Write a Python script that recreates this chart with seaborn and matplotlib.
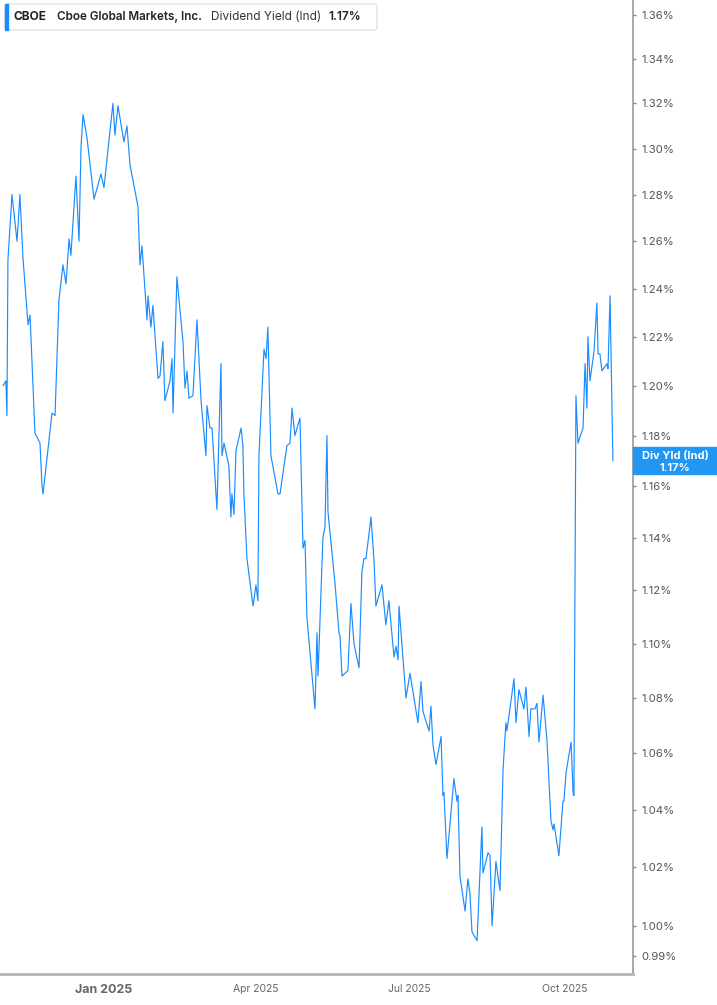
import matplotlib
matplotlib.use("Agg")
import matplotlib.pyplot as plt
import matplotlib.ticker as mticker
from matplotlib.patches import FancyBboxPatch, Rectangle
from matplotlib.transforms import IdentityTransform
import pandas as pd
import seaborn as sns

# CBOE indicated dividend yield
BASE_DATE = pd.Timestamp("2025-01-01")

DAYS = [
    -59.5, -57.8, -57.2, -56.6, -54.2, -51.2, -49.5, -47.7, -44.7, -43.5,
    -40.6, -37.6, -36.4, -35.8, -30.5, -28.7, -26.4, -24.0, -22.2, -20.4,
    -19.3, -16.3, -14.5, -13.3, -12.1, -9.8, -5.6, -1.5, 0.3, 5.6,
    6.8, 8.6, 12.1, 13.9, 15.7, 20.4, 21.6, 22.8, 25.8, 26.4,
    28.1, 29.3, 32.3, 33.5, 35.2, 36.4, 39.4, 40.6, 41.2, 43.5,
    47.1, 48.3, 49.5, 50.6, 53.0, 55.4, 57.8, 60.7, 61.3, 63.1,
    64.3, 67.2, 69.6, 70.2, 71.4, 74.3, 75.5, 76.1, 77.3, 78.5,
    81.5, 82.6, 83.2, 85.0, 88.6, 90.3, 91.5, 92.1, 95.1, 96.3,
    97.4, 99.2, 103.4, 104.6, 106.3, 108.7, 110.5, 111.7, 113.4, 116.4,
    118.2, 119.4, 120.5, 125.3, 126.5, 127.1, 130.0, 131.2, 132.4, 133.0,
    135.4, 137.1, 139.5, 140.1, 141.3, 144.8, 146.6, 148.4, 151.4, 153.1,
    154.3, 155.5, 158.5, 160.2, 161.4, 165.0, 167.3, 169.1, 172.1, 173.3,
    174.5, 175.1, 179.2, 181.6, 186.3, 188.1, 189.3, 192.9, 194.0, 195.2,
    197.0, 200.0, 201.1, 201.7, 203.5, 207.6, 209.4, 210.0, 211.2, 214.2,
    215.9, 217.1, 218.3, 221.3, 224.2, 224.8, 227.8, 229.0, 230.2, 232.5,
    234.9, 236.7, 238.4, 239.0, 243.2, 244.4, 246.1, 249.1, 250.3, 252.1,
    253.2, 255.6, 256.8, 258.0, 260.4, 262.7, 265.1, 266.3, 266.9, 269.8,
    272.2, 272.8, 274.0, 277.0, 278.2, 278.7, 279.9, 281.1, 284.1, 285.3,
    286.4, 287.0, 288.2, 290.6, 292.3, 293.0, 294.1, 295.3, 298.3, 298.9,
    300.1, 301.8,
]

YIELD_PCT = [
    1.200, 1.202, 1.188, 1.252, 1.280, 1.260, 1.280, 1.253, 1.225, 1.229,
    1.181, 1.177, 1.160, 1.157, 1.189, 1.188, 1.235, 1.250, 1.242, 1.261,
    1.254, 1.288, 1.260, 1.301, 1.315, 1.305, 1.278, 1.289, 1.283, 1.320,
    1.306, 1.319, 1.303, 1.310, 1.293, 1.275, 1.250, 1.258, 1.227, 1.237,
    1.224, 1.233, 1.203, 1.204, 1.218, 1.194, 1.202, 1.211, 1.189, 1.245,
    1.218, 1.199, 1.206, 1.195, 1.196, 1.227, 1.194, 1.172, 1.192, 1.183,
    1.183, 1.151, 1.209, 1.172, 1.177, 1.168, 1.148, 1.157, 1.149, 1.174,
    1.183, 1.176, 1.157, 1.132, 1.114, 1.122, 1.116, 1.172, 1.215, 1.211,
    1.224, 1.172, 1.157, 1.157, 1.165, 1.176, 1.177, 1.191, 1.180, 1.187,
    1.136, 1.139, 1.110, 1.076, 1.104, 1.088, 1.140, 1.144, 1.180, 1.150,
    1.134, 1.123, 1.104, 1.103, 1.088, 1.090, 1.115, 1.100, 1.091, 1.127,
    1.132, 1.132, 1.148, 1.132, 1.114, 1.122, 1.107, 1.116, 1.095, 1.099,
    1.094, 1.114, 1.080, 1.089, 1.071, 1.086, 1.075, 1.068, 1.077, 1.063,
    1.056, 1.066, 1.045, 1.046, 1.023, 1.051, 1.043, 1.045, 1.017, 1.005,
    1.016, 1.011, 0.998, 0.995, 1.034, 1.018, 1.025, 1.024, 1.000, 1.022,
    1.012, 1.054, 1.071, 1.068, 1.087, 1.071, 1.083, 1.076, 1.084, 1.066,
    1.076, 1.076, 1.078, 1.064, 1.081, 1.065, 1.036, 1.033, 1.035, 1.024,
    1.043, 1.043, 1.053, 1.064, 1.046, 1.045, 1.196, 1.177, 1.183, 1.209,
    1.191, 1.220, 1.202, 1.214, 1.234, 1.213, 1.213, 1.206, 1.209, 1.207,
    1.237, 1.170,
]

Y_TICKS = [0.99, 1.00, 1.02, 1.04, 1.06, 1.08, 1.10, 1.12, 1.14, 1.16,
           1.18, 1.20, 1.22, 1.24, 1.26, 1.28, 1.30, 1.32, 1.34, 1.36]
X_TICKS = ["2025-01-01", "2025-04-01", "2025-07-01", "2025-10-01"]
X_TICK_LABELS = ["Jan 2025", "Apr 2025", "Jul 2025", "Oct 2025"]

TICKER = "CBOE"
COMPANY = "Cboe Global Markets, Inc."
METRIC = "Dividend Yield (Ind)"
LAST_VALUE = 1.17

LINE_BLUE = "#1a8cff"
TAG_BLUE = "#2196f3"
W, H = 717, 1005


def main() -> None:
    df = pd.DataFrame({
        "date": BASE_DATE + pd.to_timedelta(DAYS, unit="D"),
        "yield": YIELD_PCT,
    })

    sns.set_style("white")
    plt.rcParams["font.family"] = ["Inter", "DejaVu Sans"]

    fig = plt.figure(figsize=(W / 100, H / 100), dpi=100)
    ax = fig.add_axes([0, 31 / H, 633 / W, 1 - 31 / H])

    sns.lineplot(data=df, x="date", y="yield", ax=ax, color=LINE_BLUE,
                 linewidth=0.85, estimator=None)

    ax.set_yscale("log")
    ax.set_ylim(0.9839, 1.3669)
    ax.set_xlim(BASE_DATE - pd.Timedelta(days=61.3),
                BASE_DATE + pd.Timedelta(days=313.7))

    ax.yaxis.set_major_locator(mticker.FixedLocator(Y_TICKS))
    ax.yaxis.set_minor_locator(mticker.NullLocator())
    ax.yaxis.set_major_formatter(
        mticker.FuncFormatter(lambda v, _: f"{v:.2f}%"))
    ax.yaxis.tick_right()
    ax.tick_params(axis="y", length=2, width=1, color="#888888",
                   labelsize=8.2, labelcolor="#555555", pad=4)

    ax.set_xticks(pd.to_datetime(X_TICKS))
    ax.set_xticklabels(X_TICK_LABELS)
    ax.tick_params(axis="x", length=3, width=1, color="#999999",
                   labelsize=7.5, labelcolor="#666666", pad=4)
    first = ax.get_xticklabels()[0]
    first.set_fontweight("bold")
    first.set_fontsize(9)

    ax.set_xlabel("")
    ax.set_ylabel("")
    ax.grid(False)
    for side in ("left", "top"):
        ax.spines[side].set_visible(False)
    ax.spines["right"].set_color("#9a9a9a")
    ax.spines["right"].set_linewidth(1.2)
    ax.spines["bottom"].set_color("#b5b5b5")
    ax.spines["bottom"].set_linewidth(2)

    # legend box in the upper left (pixel coordinates)
    px = IdentityTransform()
    fig.add_artist(FancyBboxPatch((5, H - 30), 372, 26,
                                  boxstyle="round,pad=0,rounding_size=3",
                                  facecolor="white", edgecolor="#e2e2e2",
                                  linewidth=1, transform=px))
    fig.add_artist(Rectangle((5, H - 30), 3, 26, color=LINE_BLUE,
                             transform=px))
    yc = H - 17
    fig.text(13, yc, TICKER, transform=px, va="center", fontsize=8.6,
             fontweight="bold", color="#222222")
    fig.text(57, yc, COMPANY, transform=px, va="center", fontsize=8.4,
             fontweight="semibold", color="#222222")
    fig.text(211, yc, METRIC, transform=px, va="center", fontsize=8.5,
             color="#333333")
    fig.text(328, yc, f"{LAST_VALUE:.2f}%", transform=px, va="center",
             fontsize=8.6, fontweight="semibold", color="#222222")

    # last-value tag on the right axis
    fig.canvas.draw()
    _, ty = ax.transData.transform((ax.get_xlim()[1], LAST_VALUE))
    fig.add_artist(Rectangle((633, ty - 13.5), 84, 27, color=TAG_BLUE,
                             transform=px))
    fig.text(675, ty + 5, "Div Yld (Ind)", transform=px, ha="center",
             va="center", fontsize=8, fontweight="bold", color="white")
    fig.text(675, ty - 7, f"{LAST_VALUE:.2f}%", transform=px, ha="center",
             va="center", fontsize=8, fontweight="bold", color="white")

    fig.savefig("out.png", dpi=100)
    plt.close(fig)


if __name__ == "__main__":
    main()
